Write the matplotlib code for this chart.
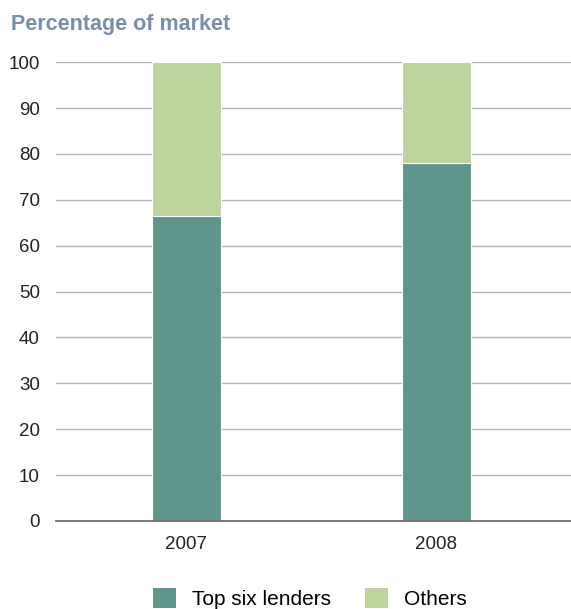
import matplotlib
matplotlib.use("Agg")
import matplotlib.pyplot as plt
from matplotlib.patches import Patch

categories = ["2007", "2008"]
top_six = [66.5, 78.0]
others = [33.5, 22.0]
yticks = [0, 10, 20, 30, 40, 50, 60, 70, 80, 90, 100]

plt.rcParams['font.family'] = ['Liberation Sans', 'DejaVu Sans']

c_top = "#5f958a"
c_oth = "#bdd49e"

fig = plt.figure(figsize=(5.71, 6.09), dpi=100)
ax = fig.add_axes([0.098, 0.1445, 0.902, 0.7535])

x = list(range(len(categories)))
ax.bar(x, top_six, width=0.276, color=c_top, edgecolor="white", linewidth=0.8, zorder=3)
ax.bar(x, others, bottom=top_six, width=0.276, color=c_oth, edgecolor="white", linewidth=0.8, zorder=3)

ax.set_xlim(-0.522, 1.538)
ax.set_ylim(0, 100)
ax.set_yticks(yticks)
ax.set_xticks(x)
ax.set_xticklabels(categories)
ax.yaxis.grid(True, color="#b5b5b5", linewidth=1.0, zorder=0)
ax.set_axisbelow(True)
for s in ["top", "right", "left"]:
    ax.spines[s].set_visible(False)
ax.spines["bottom"].set_color("#707070")
ax.spines["bottom"].set_linewidth(1.3)
ax.spines["bottom"].set_zorder(4)
ax.tick_params(axis="both", length=0, labelsize=13.5, colors="#222222")
ax.tick_params(axis="y", pad=11.5)
ax.tick_params(axis="x", pad=11)

fig.text(0.019, 0.960, "Percentage of market", fontsize=15.5, fontweight="bold",
         color="#7a8fa6", ha="left", va="center")

handles = [Patch(facecolor=c_top, edgecolor="none", label="Top six lenders"),
           Patch(facecolor=c_oth, edgecolor="none", label="Others")]
fig.legend(handles=handles, loc="center", bbox_to_anchor=(0.543, 0.017), ncol=2,
           frameon=False, fontsize=15, handlelength=1.1, handleheight=1.1,
           columnspacing=1.65, handletextpad=0.75, borderpad=0)

fig.savefig("out.png", dpi=100)
